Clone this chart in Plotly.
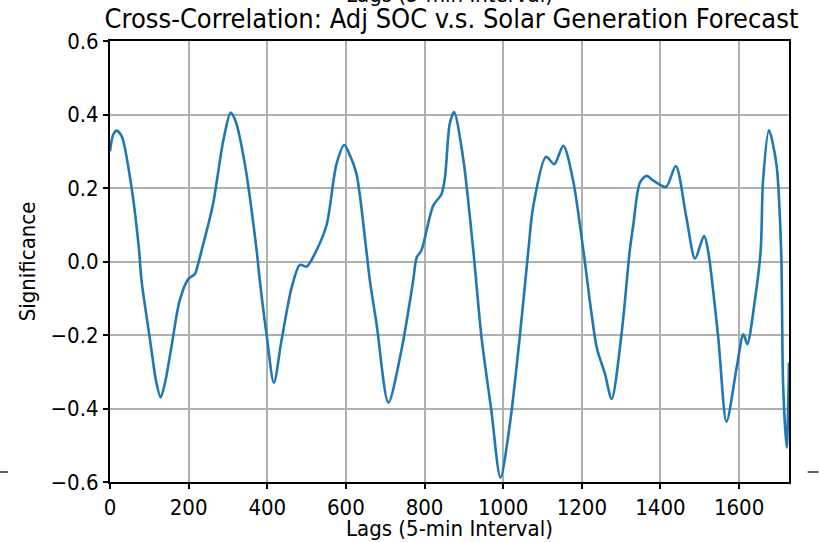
import plotly.graph_objects as go

# Cross-correlation of adjusted SOC against the solar generation forecast
lags = [0, 8, 17, 30, 55, 74, 80, 101, 118, 129, 140, 156, 177, 199, 216, 224, 233,
        262, 288, 307, 320, 343, 373, 381, 398, 417, 436, 462, 483, 500, 525,
        551, 576, 596, 610, 627, 652, 661, 678, 708, 741, 771, 780, 792,
        822, 843, 852, 864, 875, 898, 924, 945, 970, 993, 1017, 1042, 1064,
        1076, 1109, 1130, 1153, 1178, 1204, 1238, 1259, 1276, 1301, 1322,
        1331, 1348, 1365, 1382, 1414, 1439, 1466, 1488, 1511, 1521, 1547,
        1568, 1594, 1611, 1621, 1640, 1655, 1661, 1676, 1695, 1707, 1712,
        1721, 1727]
significance = [0.30, 0.345, 0.356, 0.34, 0.20, 0.03, -0.05, -0.207, -0.33, -0.37, -0.33,
                -0.234, -0.107, -0.048, -0.034, -0.007, 0.03,
                0.156, 0.328, 0.405, 0.38, 0.265, 0.03, -0.052, -0.197, -0.33, -0.216,
                -0.071, -0.009, -0.014, 0.03,
                0.10, 0.265, 0.317, 0.29, 0.238, 0.03, -0.052, -0.17, -0.384, -0.243,
                -0.053, 0.011, 0.03,
                0.152, 0.183, 0.229, 0.374, 0.407, 0.283, 0.03, -0.207, -0.406, -0.588,
                -0.443, -0.207, 0.03,
                0.147, 0.285, 0.265, 0.315, 0.22, 0.03, -0.234, -0.306, -0.374, -0.198,
                0.03,
                0.10, 0.215, 0.233, 0.22, 0.203, 0.26, 0.12, 0.008, 0.07, 0.03, -0.207,
                -0.436, -0.288, -0.198, -0.225, -0.107, 0.03, 0.22, 0.357, 0.265, 0.03,
                -0.334, -0.506, -0.275]

x_ticks = [0, 200, 400, 600, 800, 1000, 1200, 1400, 1600]
y_ticks = [-0.6, -0.4, -0.2, 0.0, 0.2, 0.4, 0.6]
y_tick_text = ["\u22120.6", "\u22120.4", "\u22120.2", "0.0", "0.2", "0.4", "0.6"]

FONT = "DejaVu Sans Condensed, DejaVu Sans, sans-serif"
LABEL_SIZE = 22
TITLE_SIZE = 27
X_LABEL = "Lags (5-min Interval)"
Y_LABEL = "Significance"

fig = go.Figure()
fig.add_trace(go.Scatter(
    x=lags, y=significance, mode="lines",
    line=dict(color="#1f77b4", width=2.6, shape="spline", smoothing=0.8),
    showlegend=False, hoverinfo="skip",
))

axis_common = dict(
    showline=True, linecolor="black", linewidth=2, mirror=True,
    showgrid=True, gridcolor="#b0b0b0", gridwidth=1.5,
    ticks="outside", ticklen=5, tickwidth=1.5, tickcolor="black",
    zeroline=False, automargin=False,
    tickfont=dict(family=FONT, size=LABEL_SIZE, color="black"),
)

fig.update_layout(
    width=819, height=542,
    margin=dict(l=110, r=30, t=41, b=60),
    paper_bgcolor="white", plot_bgcolor="white",
    title=dict(text="Cross-Correlation: Adj SOC v.s. Solar Generation Forecast",
               x=0.5513, xanchor="center", y=0.965, yanchor="middle",
               font=dict(family=FONT, size=TITLE_SIZE, color="black")),
    xaxis=dict(range=[0, 1727], tickvals=x_ticks, **axis_common),
    yaxis=dict(range=[-0.6, 0.6], tickvals=y_ticks, ticktext=y_tick_text, **axis_common),
)

label_font = dict(family=FONT, size=LABEL_SIZE, color="black")

# axis titles
fig.add_annotation(text=X_LABEL, xref="paper", yref="paper",
                   x=0.5004, y=-0.105, xanchor="center", yanchor="middle",
                   showarrow=False, font=label_font)
fig.add_annotation(text=Y_LABEL, xref="paper", yref="paper", textangle=-90,
                   x=-0.121, y=0.5, xanchor="center", yanchor="middle",
                   showarrow=False, font=label_font)

# second copy of the x label, mostly above the top edge of the page
fig.add_annotation(text=X_LABEL, xref="paper", yref="paper",
                   x=0.5004, y=1.1054, xanchor="center", yanchor="middle",
                   showarrow=False, font=label_font)

# short marker strokes at the page edges
for x0, x1 in [(-0.162, -0.150), (1.0275, 1.0434)]:
    fig.add_shape(type="line", xref="paper", yref="paper",
                  x0=x0, x1=x1, y0=0.0227, y1=0.0227,
                  line=dict(color="#56636f", width=2))

fig.write_html("out.html")
